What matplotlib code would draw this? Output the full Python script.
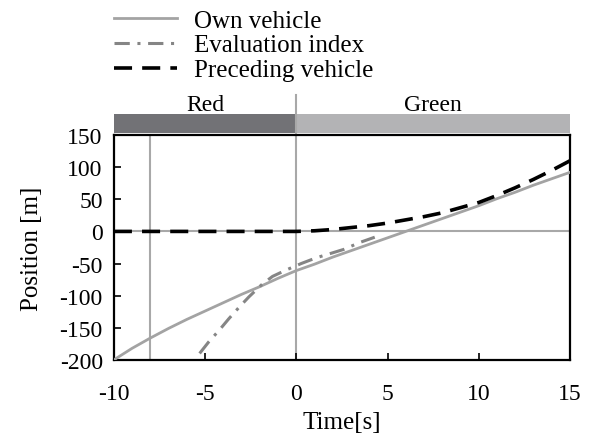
import numpy as np
import matplotlib.pyplot as plt

plt.rcParams['font.family'] = ['Liberation Serif', 'Noto Sans CJK JP']
plt.rcParams['axes.unicode_minus'] = False

# own vehicle position [m]
own_t = [-10, -9, -8, -7, -6, -5, -4, -3, -2, -1, 0, 1, 2, 3, 4, 5, 6, 7, 8, 9, 10, 11, 12, 13, 14, 15]
own_pos = [-200, -182, -166, -151, -137, -124, -111, -98, -86, -73, -61, -51, -40, -30, -20, -10, 0, 10, 20, 30, 40, 51, 61, 72, 82, 92]

# evaluation index
eval_t = [-5.3, -4.8, -4.2, -3.7, -3.1, -2.6, -1.9, -1.3, -0.55, 0.27, 1.1, 1.8, 2.6, 3.5, 4.3]
eval_pos = [-190, -172, -153, -136, -117, -102, -83, -70, -60, -50, -41, -35, -28, -17, -9]

# preceding vehicle
pre_t = [-10, -8, -6, -4, -2, 0, 1, 2, 3, 4, 5, 6, 7, 8, 9, 10, 11, 12, 13, 14, 15]
pre_pos = [0, 0, 0, 0, 0, 0, 1, 3, 6, 9, 13, 18, 23, 29, 37, 45, 56, 68, 81, 95, 110]

phase_names = ['Red', 'Green']
phase_start = [-10, 0]
phase_end = [0, 15]
phase_colors = ['#727276', '#b3b3b5']

fs = 17

fig = plt.figure(figsize=(5.9, 4.39), dpi=100)
ax = fig.add_axes([0.193, 0.178, 0.773, 0.512])
bar = fig.add_axes([0.193, 0.695, 0.773, 0.043])

ax.axhline(0, color='#a8a8a8', lw=1.5, zorder=1)
ax.axvline(-8, color='#a8a8a8', lw=1.5, zorder=1)
ax.axvline(0, color='#a8a8a8', lw=1.5, zorder=1)

l1, = ax.plot(own_t, own_pos, color='#a3a3a3', lw=2.0, label='Own vehicle', zorder=3)
l2, = ax.plot(eval_t, eval_pos, color='#858585', lw=2.2, ls=(0, (5, 2.5, 1, 2.5)),
              label='Evaluation index', zorder=4)
l3, = ax.plot(pre_t, pre_pos, color='black', lw=2.6, ls=(0, (5, 2.8)),
              label='Preceding vehicle', zorder=5)

ax.set_xlim(-10, 15)
ax.set_ylim(-200, 150)
ax.set_xticks([-10, -5, 0, 5, 10, 15])
ax.set_yticks(np.arange(-200, 151, 50))
ax.tick_params(direction='in', length=5, width=1.2, labelsize=fs)
ax.tick_params(axis='y', pad=8)
ax.tick_params(axis='x', pad=17)
for s in ax.spines.values():
    s.set_linewidth(1.6)
ax.set_xlabel('Time[s]', fontsize=18, labelpad=5)
ax.set_ylabel('Position [m]', fontsize=18, labelpad=12)

for name, a, b, c in zip(phase_names, phase_start, phase_end, phase_colors):
    bar.axvspan(a, b, color=c, lw=0)
    bar.text((a + b) / 2, 0.95, name, ha='center', va='bottom', fontsize=fs)
bar.set_xlim(-10, 15)
bar.set_ylim(0, 1)
bar.axis('off')
bar.axvline(0, ymin=0, ymax=2.0, color='#a8a8a8', lw=1.5, clip_on=False)

fig.legend(handles=[l1, l2, l3], loc='upper left', bbox_to_anchor=(0.177, 1.0),
           frameon=False, fontsize=18, handlelength=2.5, labelspacing=0.1,
           handletextpad=0.7, borderaxespad=0)

fig.savefig('out.png', dpi=100)
